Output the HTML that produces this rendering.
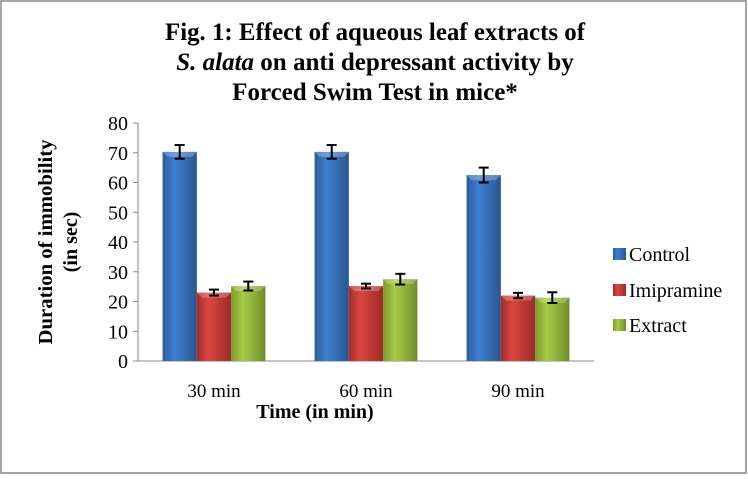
<!DOCTYPE html>
<html><head><meta charset="utf-8"><style>
html,body{margin:0;padding:0;background:#fff}
svg text{font-family:"Liberation Serif",serif}
</style></head><body>
<svg width="748" height="474" viewBox="0 0 748 474" xmlns="http://www.w3.org/2000/svg">
<defs>
<linearGradient id="gb" x1="0" x2="1"><stop offset="0" stop-color="#2c5c9c"/><stop offset="0.35" stop-color="#3f7fd0"/><stop offset="1" stop-color="#2a568f"/></linearGradient>
<linearGradient id="gr" x1="0" x2="1"><stop offset="0" stop-color="#a52c2a"/><stop offset="0.35" stop-color="#d9463f"/><stop offset="1" stop-color="#9c2a28"/></linearGradient>
<linearGradient id="gg" x1="0" x2="1"><stop offset="0" stop-color="#7b9a2e"/><stop offset="0.35" stop-color="#a6cc48"/><stop offset="1" stop-color="#718d2a"/></linearGradient>
</defs>
<rect x="1" y="1" width="745" height="472" fill="#fff" stroke="#888" stroke-width="1.5"/>
<g font-weight="bold" font-size="25" text-anchor="middle">
<text x="375" y="40" textLength="420" lengthAdjust="spacingAndGlyphs">Fig. 1: Effect of aqueous leaf extracts of</text>
<text x="375" y="70"><tspan font-style="italic">S. alata</tspan> on anti depressant activity by</text>
<text x="375" y="100">Forced Swim Test in mice*</text>
</g>
<g id="axes"></g>
<g id="bars"></g>
<g id="legend"></g>
</svg>
<script>
const categories=["30 min","60 min","90 min"];
const seriesNames=["Control","Imipramine","Extract"];
const control=[70.3,70.3,62.5];
const imipramine=[23,25.2,22];
const extract=[25.2,27.5,21.3];
const controlErr=[2.3,2.3,2.5];
const imipramineErr=[1,0.8,0.9];
const extractErr=[1.5,1.8,1.8];
const yTicks=[0,10,20,30,40,50,60,70,80];
const NS="http://www.w3.org/2000/svg";
const x0=138,x1=594,y0=361,y1=123,yMax=80;
const yS=v=>y0-(v/yMax)*(y0-y1);
const gw=(x1-x0)/categories.length,bw=34.3;
function mk(t,a,p){const e=document.createElementNS(NS,t);for(const k in a)e.setAttribute(k,a[k]);p.appendChild(e);return e;}
const axes=document.getElementById('axes');
const yl=mk('line',{x1:x0,y1:y1,x2:x0,y2:y0,stroke:'#888'},axes);


const xl=mk('line',{x1:x0,y1:y0,x2:x1,y2:y0,stroke:'#888'},axes);


yTicks.forEach(v=>{
  mk('line',{x1:x0-5,y1:yS(v),x2:x0,y2:yS(v),stroke:'#888'},axes);
  const t=mk('text',{x:x0-10,y:yS(v)+7,'text-anchor':'end','font-size':'20'},axes);
  t.textContent=v;
  
  
});
categories.forEach((c,i)=>{
  const t=mk('text',{x:x0+gw*(i+0.5),y:y0+36,'text-anchor':'middle','font-size':'19'},axes);
  t.textContent=c;
  
  
});
const xt=mk('text',{x:315,y:418,'text-anchor':'middle','font-size':'20','font-weight':'bold'},axes);
xt.textContent='Time (in min)';


const yt=mk('text',{transform:'translate(52,242) rotate(-90)','text-anchor':'middle','font-size':'20','font-weight':'bold'},axes);
yt.innerHTML='<tspan x="0" y="0" textLength="205" lengthAdjust="spacingAndGlyphs">Duration of immobility</tspan><tspan x="0" y="25">(in sec)</tspan>';


const bars=document.getElementById('bars');
const data=[control,imipramine,extract],errs=[controlErr,imipramineErr,extractErr],fills=['url(#gb)','url(#gr)','url(#gg)'];
categories.forEach((c,i)=>{
  const cx=x0+gw*(i+0.5);
  data.forEach((s,j)=>{
    const bx=cx-1.5*bw+j*bw,top=yS(s[i]);
    const r=mk('rect',{x:bx,y:top,width:bw,height:y0-top,fill:fills[j]},bars);
    
    
    mk('polygon',{points:`${bx},${top} ${bx+bw},${top} ${bx+bw-5},${top+5} ${bx+5},${top+5}`,fill:'#fff',opacity:'0.25'},bars);
    const ex=bx+bw/2,e=errs[j][i],ya=yS(s[i]+e),yb=yS(s[i]-e);
    const g=mk('g',{stroke:'#000','stroke-width':'2'},bars);
    
    
    mk('line',{x1:ex,y1:ya,x2:ex,y2:yb},g);
    mk('line',{x1:ex-5,y1:ya,x2:ex+5,y2:ya},g);
    mk('line',{x1:ex-5,y1:yb,x2:ex+5,y2:yb},g);
  });
});
const lg=document.getElementById('legend');
const ly=[254,290,325];
seriesNames.forEach((n,j)=>{
  const g=mk('g',{},lg);
  
  
  mk('rect',{x:613,y:ly[j]-6,width:13,height:12,fill:fills[j]},g);
  const t=mk('text',{x:629,y:ly[j]+7,'font-size':'20'},g);
  t.textContent=n;
});
</script>
</body></html>
